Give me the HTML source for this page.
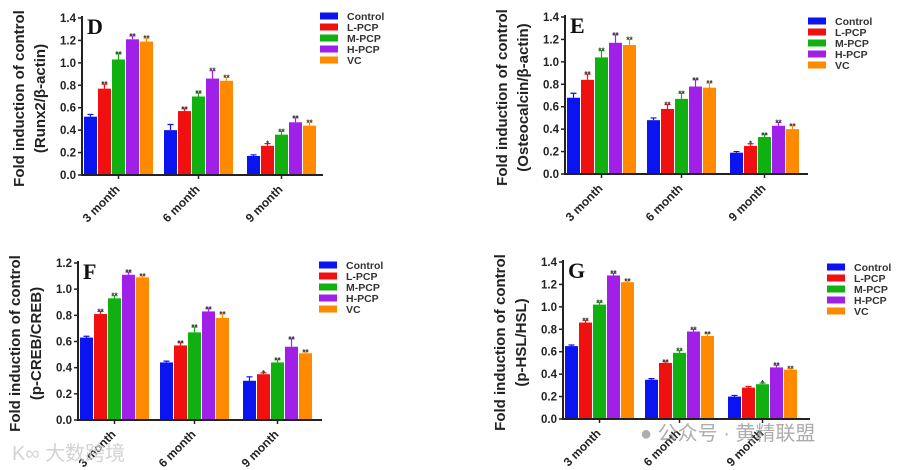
<!DOCTYPE html>
<html><head><meta charset="utf-8">
<style>
html,body{margin:0;padding:0;background:#fff;}
svg{display:block;font-family:"Liberation Sans",Arial,sans-serif;}
</style></head>
<body>
<svg id="chart" width="900" height="470" viewBox="0 0 900 470" xmlns="http://www.w3.org/2000/svg"></svg>
<script>
const categories = ["3 month","6 month","9 month"];
const seriesNames = ["Control","L-PCP","M-PCP","H-PCP","VC"];
const seriesColors = ["#0a14f0","#f01010","#10b010","#a020e8","#ff8a00"];
// Panel D (Runx2)
const dControl=[0.52,0.40,0.17], dL=[0.77,0.57,0.26], dM=[1.03,0.70,0.36], dH=[1.21,0.86,0.47], dVC=[1.19,0.84,0.44];
const dErr=[[0.02,0.05,0.01],[0.04,0.02,0.02],[0.05,0.03,0.03],[0.03,0.07,0.04],[0.03,0.03,0.03]];
const dStars=[["","",""],["**","**","*"],["**","**","**"],["**","**","**"],["**","**","**"]];
// Panel E (Osteocalcin)
const eControl=[0.68,0.48,0.19], eL=[0.84,0.58,0.25], eM=[1.04,0.67,0.33], eH=[1.17,0.78,0.43], eVC=[1.15,0.77,0.40];
const eErr=[[0.04,0.02,0.01],[0.05,0.04,0.02],[0.06,0.05,0.02],[0.07,0.06,0.03],[0.05,0.04,0.03]];
const eStars=[["","",""],["**","**","*"],["**","**","**"],["**","**","**"],["**","**","**"]];
// Panel F (p-CREB/CREB)
const fControl=[0.63,0.44,0.30], fL=[0.81,0.57,0.35], fM=[0.93,0.67,0.44], fH=[1.11,0.83,0.56], fVC=[1.09,0.78,0.51];
const fErr=[[0.01,0.01,0.03],[0.02,0.02,0.01],[0.02,0.04,0.02],[0.02,0.02,0.06],[0.01,0.03,0.01]];
const fStars=[["","",""],["**","**","*"],["**","**","**"],["**","**","**"],["**","**","**"]];
// Panel G (p-HSL/HSL)
const gControl=[0.65,0.35,0.20], gL=[0.86,0.50,0.28], gM=[1.02,0.59,0.31], gH=[1.28,0.78,0.46], gVC=[1.22,0.74,0.44];
const gErr=[[0.01,0.01,0.01],[0.02,0.01,0.01],[0.02,0.02,0.01],[0.02,0.02,0.02],[0.01,0.02,0.01]];
const gStars=[["","",""],["**","**",""],["**","**","*"],["**","**","**"],["**","**","**"]];
const yTicksA=["0.0","0.2","0.4","0.6","0.8","1.0","1.2","1.4"];
const yTicksF=["0.0","0.2","0.4","0.6","0.8","1.0","1.2"];

const NS="http://www.w3.org/2000/svg";
const svg=document.getElementById('chart');
function mk(tag,attrs,parent,text){const e=document.createElementNS(NS,tag);for(const k in attrs)e.setAttribute(k,attrs[k]);if(text!==undefined)e.textContent=text;(parent||svg).appendChild(e);return e;}

function panel(p){
  const g=mk('g',{});
  
  
  const ymax=parseFloat(p.ticks[p.ticks.length-1]);
  const y=v=>p.y0-(v/ymax)*(p.y0-p.yTop);
  p.ticks.forEach(t=>{
    const v=parseFloat(t),yy=y(v);
    const l=mk('line',{x1:p.x0-4,x2:p.x0,y1:yy,y2:yy,stroke:'#222','stroke-width':1.5},g);
    
    const tx=mk('text',{x:p.x0-6,y:yy+4,'text-anchor':'end','font-size':11.5,'font-weight':'bold',fill:'#222'},g,t);
    
  });
  const offs=[2,82,165];
  p.series.forEach((vals,si)=>{
    vals.forEach((v,ci)=>{
      const bx=p.x0+offs[ci]+si*14, top=y(v), ey=y(v+p.err[si][ci]);
      const r=mk('rect',{x:bx,y:top,width:13,height:p.y0-top,fill:seriesColors[si]},g);
      
      
      const e=mk('path',{d:`M${bx+6.5},${top}V${ey}M${bx+3.5},${ey}H${bx+9.5}`,stroke:seriesColors[si],'stroke-width':1.2,fill:'none'},g);
      
      if(p.stars[si][ci]){
        const s=mk('text',{x:bx+6.5,y:ey+3,'text-anchor':'middle','font-size':8,'font-weight':'bold',fill:'#333'},g,p.stars[si][ci]);
        
      }
    });
  });
  const ax=mk('path',{d:`M${p.x0},${p.yTop-2}V${p.y0}H${p.xEnd}`,stroke:'#222','stroke-width':2,fill:'none'},g);
  
  categories.forEach((c,ci)=>{
    const cx=p.x0+offs[ci]+34.5;
    const t=mk('line',{x1:cx,x2:cx,y1:p.y0,y2:p.y0+4,stroke:'#222','stroke-width':1.5},g);
    
    const tx=mk('text',{x:cx+2,y:p.y0+15,'text-anchor':'end','font-size':12,'font-weight':'bold',fill:'#222',transform:`rotate(-45 ${cx+2} ${p.y0+15})`},g,c);
    
  });
  const cy=(p.y0+p.yTop)/2+2;
  const t1=mk('text',{x:p.x0-58,y:cy,'text-anchor':'middle','font-size':15,'font-weight':'bold',fill:'#222',transform:`rotate(-90 ${p.x0-58} ${cy})`},g,'Fold induction of control');
  
  const t2=mk('text',{x:p.x0-37,y:cy,'text-anchor':'middle','font-size':15,'font-weight':'bold',fill:'#222',transform:`rotate(-90 ${p.x0-37} ${cy})`},g,p.sub);
  
  const L=mk('text',{x:p.x0+5,y:p.yTop+16,'font-size':22,'font-weight':'bold','font-family':'Liberation Serif,serif',fill:'#111'},g,p.id);
  
  seriesNames.forEach((n,si)=>{
    const yy=p.legY+si*11;
    const sw=mk('rect',{x:p.legX,y:yy-3.5,width:18,height:7,fill:seriesColors[si]},g);
    
    const lt=mk('text',{x:p.legX+27,y:yy+4,'font-size':10.5,'font-weight':'bold',fill:'#333'},g,n);
    
  });
}
panel({id:'D',x0:82,y0:175,yTop:18,xEnd:323,ticks:yTicksA,sub:'(Runx2/β-actin)',series:[dControl,dL,dM,dH,dVC],err:dErr,stars:dStars,legX:320,legY:16});
panel({id:'E',x0:565,y0:174,yTop:17,xEnd:808,ticks:yTicksA,sub:'(Osteocalcin/β-actin)',series:[eControl,eL,eM,eH,eVC],err:eErr,stars:eStars,legX:808,legY:21});
panel({id:'F',x0:78,y0:420,yTop:263,xEnd:322,ticks:yTicksF,sub:'(p-CREB/CREB)',series:[fControl,fL,fM,fH,fVC],err:fErr,stars:fStars,legX:319,legY:265});
panel({id:'G',x0:563,y0:419,yTop:262,xEnd:810,ticks:yTicksA,sub:'(p-HSL/HSL)',series:[gControl,gL,gM,gH,gVC],err:gErr,stars:gStars,legX:827,legY:267});
const w1=mk('text',{x:12,y:460,'font-size':20,fill:'#ccc','font-family':'Liberation Sans,Noto Sans CJK SC,sans-serif',opacity:0.85},svg,'K∞ 大数跨境');

const w2=mk('text',{x:640,y:440,'font-size':20,fill:'#999','font-family':'Liberation Sans,Noto Sans CJK SC,sans-serif',opacity:0.8},svg,'● 公众号 · 黄精联盟');

</script>
</body></html>
